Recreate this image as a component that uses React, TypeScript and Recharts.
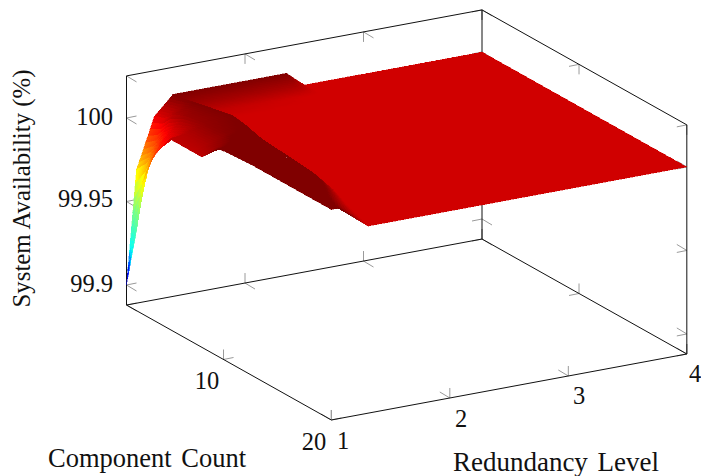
import React from "react";
import { ScatterChart, Scatter, XAxis, YAxis } from "recharts";

const WIDTH = 701;
const HEIGHT = 476;
const FONT = "'Liberation Serif', serif";

// Component count samples (y); each has its own run of redundancy level samples (x)
const components = [1, 1.9, 2.5, 3.4, 5, 7, 8, 9.5, 12.5, 15, 17, 18.5, 20];
const levels1 = [1, 1.084, 1.236, 1.38, 1.39, 2, 2.35, 2.5, 3, 4];
const levels2 = [1, 1.09, 1.24, 1.42, 1.5, 2, 2.35, 2.5, 3, 4];
const levels3 = [1, 1.1, 1.26, 1.435, 1.6, 2, 2.35, 2.5, 3, 4];
const levels4 = [1, 1.1, 1.28, 1.47, 1.71, 2, 2.35, 2.5, 3, 4];
const levels5 = [1, 1.12, 1.3, 1.53, 1.66, 2, 2.35, 2.5, 3, 4];
const levels6 = [1, 1.12, 1.3, 1.48, 1.6, 2, 2.35, 2.5, 3, 4];
const levels7 = [1, 1.12, 1.28, 1.45, 1.595, 2, 2.35, 2.5, 3, 4];
const levels8 = [1, 1.1, 1.24, 1.38, 1.58, 2, 2.35, 2.5, 3, 4];
const levels9 = [1, 1.1, 1.22, 1.327, 1.56, 2, 2.35, 2.5, 3, 4];
const levels10 = [1, 1.1, 1.2, 1.3, 1.49, 2, 2.35, 2.5, 3, 4];
const levels11 = [1, 1.08, 1.17, 1.26, 1.41, 2, 2.35, 2.5, 3, 4];
const levels12 = [1, 1.04, 1.07, 1.1, 1.36, 2, 2.35, 2.5, 3, 4];
const levels13 = [1, 1.02, 1.04, 1.06, 1.31, 2, 2.35, 2.5, 3, 4];
const levels = [levels1, levels2, levels3, levels4, levels5, levels6, levels7, levels8, levels9, levels10, levels11, levels12, levels13];

// System availability (%) at those samples
const avail1 = [99.9, 99.968, 99.998, 100.008, 100.009, 100.009, 100.009, 100, 100, 100];
const avail2 = [99.935, 99.975, 100.0, 100.0085, 100.006, 100.005, 100.004, 100, 100, 100];
const avail3 = [99.967, 99.985, 100.004, 100.009, 100.002, 100.001, 100, 100, 100, 100];
const avail4 = [99.985, 99.995, 100.006, 100.009, 100, 100, 100, 100, 100, 100];
const avail5 = [100.002, 100.003, 100.007, 100.009, 100, 100, 100, 100, 100, 100];
const avail6 = [100.002, 100.004, 100.008, 100.01, 100, 100, 100, 100, 100, 100];
const avail7 = [100.002, 100.006, 100.01, 100.01, 100, 100, 100, 100, 100, 100];
const avail8 = [100.0126, 100.012, 100.012, 100.0126, 100, 100, 100, 100, 100, 100];
const avail9 = [100.014, 100.014, 100.014, 100.014, 100, 100, 100, 100, 100, 100];
const avail10 = [100.014, 100.014, 100.014, 100.014, 100, 100, 100, 100, 100, 100];
const avail11 = [100.014, 100.014, 100.012, 100.008, 100, 100, 100, 100, 100, 100];
const avail12 = [100.014, 100.014, 100.013, 100.012, 100, 100, 100, 100, 100, 100];
const avail13 = [100.014, 100.014, 100.014, 100.014, 100, 100, 100, 100, 100, 100];
const availability = [avail1, avail2, avail3, avail4, avail5, avail6, avail7, avail8, avail9, avail10, avail11, avail12, avail13];

// Axis box limits and ticks
const xLimits = [1, 4];
const yLimits = [1, 20];
const zLimits = [99.888, 100.0252];
const xTicks = [1, 2, 3, 4];
const yTicks = [1, 10, 20];
const zTicks = [99.9, 99.95, 100];

// Colour ramp: availability value -> rgb
const rampStops: [number, number, number, number][] = [
  [99.9, 0, 0, 128],
  [99.909, 0, 0, 255],
  [99.921, 0, 255, 255],
  [99.945, 128, 255, 128],
  [99.965, 255, 255, 0],
  [99.995, 255, 0, 0],
  [100, 208, 0, 0],
  [100.009, 128, 0, 0],
];

const rampColor = (z: number) => {
  if (z <= rampStops[0][0]) return `rgb(${rampStops[0][1]},${rampStops[0][2]},${rampStops[0][3]})`;
  for (let i = 1; i < rampStops.length; i++) {
    const b = rampStops[i];
    if (z <= b[0]) {
      const a = rampStops[i - 1];
      const t = (z - a[0]) / (b[0] - a[0]);
      return `rgb(${Math.round(a[1] + (b[1] - a[1]) * t)},${Math.round(a[2] + (b[2] - a[2]) * t)},${Math.round(a[3] + (b[3] - a[3]) * t)})`;
    }
  }
  return "rgb(128,0,0)";
};

// Oblique view of the three data axes on the chart's plane
const project = (x: number, y: number, z: number) => ({
  u: 126.5 + 118.5 * (x - 1) + 10.78 * (y - 1),
  v: 285 - 22 * (x - 1) + 6.05 * (y - 1) - (z - 99.9) * 1670,
});

type Pt = { u: number; v: number };

const seg = (a: Pt, b: Pt, color: string, w: number) => ({
  u: a.u, v: a.v, du: b.u - a.u, dv: b.v - a.v, color, w,
});

const [x0, x1] = xLimits;
const [y0, y1] = yLimits;
const [zLo, zHi] = zLimits;

const BLACK = "#111";
const GREY = "#9a9a9a";

const boxLines = [
  seg(project(x0, y0, zLo), project(x1, y0, zLo), BLACK, 1),
  seg(project(x1, y0, zLo), project(x1, y1, zLo), BLACK, 1),
  seg(project(x0, y0, zLo), project(x0, y1, zLo), BLACK, 1),
  seg(project(x0, y1, zLo), project(x1, y1, zLo), BLACK, 1),
  seg(project(x0, y0, zHi), project(x1, y0, zHi), BLACK, 1),
  seg(project(x1, y0, zHi), project(x1, y1, zHi), BLACK, 1),
  seg(project(x0, y0, zLo), project(x0, y0, zHi), BLACK, 1),
  seg(project(x1, y0, zLo), project(x1, y0, zHi), BLACK, 1),
  seg(project(x1, y1, zLo), project(x1, y1, zHi), BLACK, 1),
];

const dirX = { u: 10, v: -2 };
const dirY = { u: 10, v: 6 };
const dirZ = { u: 0, v: -10 };
const tickPair = (p: Pt, a: Pt, sa: number, b: Pt, sb: number) => [
  seg(p, { u: p.u + a.u * sa, v: p.v + a.v * sa }, GREY, 1),
  seg(p, { u: p.u + b.u * sb, v: p.v + b.v * sb }, GREY, 1),
];

const tickLines = [
  ...zTicks.flatMap((z) => [
    ...tickPair(project(x0, y0, z), dirX, 1, dirY, 1),
    ...tickPair(project(x1, y0, z), dirX, -1, dirY, 1),
    ...tickPair(project(x1, y1, z), dirX, -1, dirY, -1),
  ]),
  ...xTicks.flatMap((x) => [
    ...tickPair(project(x, y0, zLo), dirZ, 1, dirY, 1),
    ...tickPair(project(x, y1, zLo), dirZ, 1, dirY, -1),
    ...tickPair(project(x, y0, zHi), dirZ, -1, dirY, 1),
  ]),
  ...yTicks.flatMap((y) => [
    ...tickPair(project(x0, y, zLo), dirZ, 1, dirX, 1),
    ...tickPair(project(x1, y, zLo), dirZ, 1, dirX, -1),
    ...tickPair(project(x1, y, zHi), dirZ, -1, dirX, -1),
  ]),
];

// Surface cells, far to near, each split so that colour runs smoothly over it
const SPLIT = 8;
type Cell = { u: number; v: number; rel: number[]; color: string };
const cells: Cell[] = [];
for (let i = levels1.length - 2; i >= 0; i--) {
  for (let j = 0; j < components.length - 1; j++) {
    const a = availability[j][i];
    const b = availability[j][i + 1];
    const c = availability[j + 1][i + 1];
    const d = availability[j + 1][i];
    const n = a === b && b === c && c === d ? 1 : SPLIT;
    const at = (s: number, t: number) => {
      const xa = levels[j][i] + (levels[j][i + 1] - levels[j][i]) * s;
      const xb = levels[j + 1][i] + (levels[j + 1][i + 1] - levels[j + 1][i]) * s;
      const x = xa + (xb - xa) * t;
      const y = components[j] + (components[j + 1] - components[j]) * t;
      const z = a * (1 - s) * (1 - t) + b * s * (1 - t) + c * s * t + d * (1 - s) * t;
      return { p: project(x, y, z), z };
    };
    for (let si = n - 1; si >= 0; si--) {
      for (let ti = 0; ti < n; ti++) {
        const s0 = si / n, s1 = (si + 1) / n, t0 = ti / n, t1 = (ti + 1) / n;
        const corners = [at(s0, t0), at(s1, t0), at(s1, t1), at(s0, t1)];
        const mid = at((s0 + s1) / 2, (t0 + t1) / 2);
        cells.push({
          u: mid.p.u,
          v: mid.p.v,
          rel: corners.flatMap((q) => [q.p.u - mid.p.u, q.p.v - mid.p.v]),
          color: rampColor(mid.z),
        });
      }
    }
  }
}

const zLabels = ["100", "99.95", "99.9"];
const texts = [
  { u: 113, v: 116, s: zLabels[0], anchor: "end", size: 24.5, rot: 0, ws: 0 },
  { u: 113, v: 198, s: zLabels[1], anchor: "end", size: 24.5, rot: 0, ws: 0 },
  { u: 113, v: 283, s: zLabels[2], anchor: "end", size: 24.5, rot: 0, ws: 0 },
  { u: 207, v: 380, s: "10", anchor: "middle", size: 24.5, rot: 0, ws: 0 },
  { u: 314, v: 441, s: "20", anchor: "middle", size: 24.5, rot: 0, ws: 0 },
  { u: 343, v: 440, s: "1", anchor: "middle", size: 24.5, rot: 0, ws: 0 },
  { u: 461, v: 418, s: "2", anchor: "middle", size: 24.5, rot: 0, ws: 0 },
  { u: 579, v: 395, s: "3", anchor: "middle", size: 24.5, rot: 0, ws: 0 },
  { u: 695, v: 373, s: "4", anchor: "middle", size: 24.5, rot: 0, ws: 0 },
  { u: 147, v: 458, s: "Component Count", anchor: "middle", size: 26.5, rot: 0, ws: 3 },
  { u: 556, v: 462, s: "Redundancy Level", anchor: "middle", size: 27, rot: 0, ws: 3 },
  { u: 21, v: 188.5, s: "System Availability (%)", anchor: "middle", size: 24.8, rot: -90, ws: 0 },
];

const LineMark = (p: any) => {
  const d = p.payload;
  return (
    <line x1={p.cx} y1={p.cy} x2={p.cx + d.du} y2={p.cy + d.dv} stroke={d.color} strokeWidth={d.w} />
  );
};

const CellMark = (p: any) => {
  const r: number[] = p.payload.rel;
  const pts = [0, 2, 4, 6].map((k) => `${p.cx + r[k]},${p.cy + r[k + 1]}`).join(" ");
  return (
    <polygon
      points={pts}
      fill={p.payload.color}
      stroke={p.payload.color}
      strokeWidth={0.4}
      shapeRendering="crispEdges"
    />
  );
};

const TextMark = (p: any) => {
  const d = p.payload;
  return (
    <text
      x={p.cx}
      y={p.cy}
      textAnchor={d.anchor}
      dominantBaseline="central"
      fontFamily={FONT}
      fontSize={d.size}
      fill="#111"
      style={{ wordSpacing: d.ws }}
      transform={d.rot ? `rotate(${d.rot} ${p.cx} ${p.cy})` : undefined}
    >
      {d.s}
    </text>
  );
};

export default function App() {
  return (
    <div style={{ position: "fixed", left: 0, top: 0, width: WIDTH, height: HEIGHT, background: "#fff" }}>
      <ScatterChart width={WIDTH} height={HEIGHT} margin={{ top: 0, right: 0, bottom: 0, left: 0 }}>
        <XAxis type="number" dataKey="u" domain={[0, WIDTH]} hide allowDataOverflow />
        <YAxis type="number" dataKey="v" domain={[0, HEIGHT]} reversed hide allowDataOverflow />
        <Scatter data={tickLines} shape={LineMark} isAnimationActive={false} />
        <Scatter data={boxLines} shape={LineMark} isAnimationActive={false} />
        <Scatter data={cells} shape={CellMark} isAnimationActive={false} />
        <Scatter data={texts} shape={TextMark} isAnimationActive={false} />
      </ScatterChart>
    </div>
  );
}
